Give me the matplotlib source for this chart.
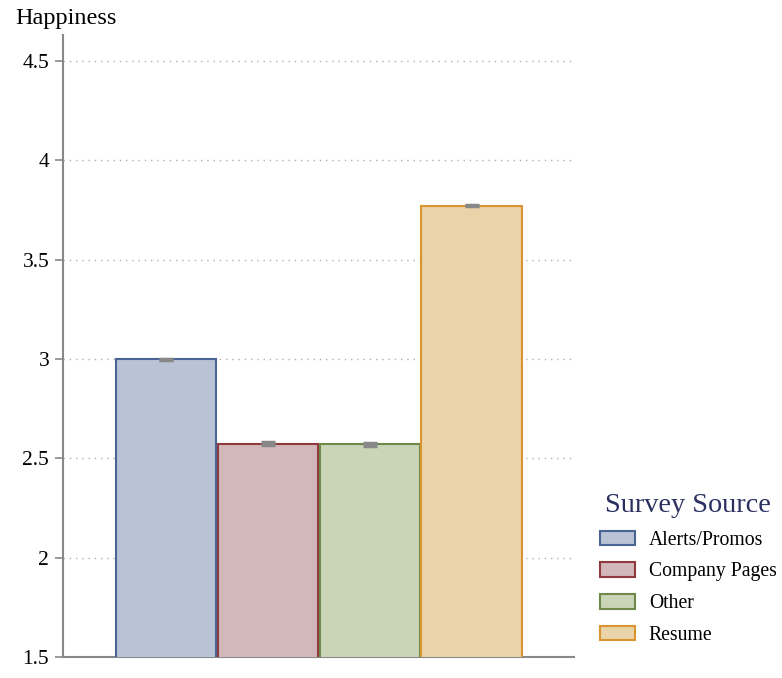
import matplotlib.pyplot as plt
from matplotlib.patches import Patch

# Data
sources = ['Alerts/Promos', 'Company Pages', 'Other', 'Resume']
happiness = [2.998, 2.573, 2.570, 3.772]
errors = [0.003, 0.007, 0.007, 0.003]
fills = ['#b8c3d5', '#d3b8bb', '#cad5b8', '#ead3a8']
edges = ['#4a6595', '#8f3a3f', '#6f8a48', '#d9952f']
yticks = [1.5, 2, 2.5, 3, 3.5, 4, 4.5]
ytick_labels = ['1.5', '2', '2.5', '3', '3.5', '4', '4.5']

plt.rcParams['font.family'] = ['Liberation Serif', 'DejaVu Serif']

fig = plt.figure(figsize=(7.82, 6.78), dpi=100)
ax = fig.add_axes([0.0806, 0.031, 0.654, 0.917])

x = list(range(len(sources)))
ax.bar(x, happiness, width=0.985, color=fills, edgecolor=edges, linewidth=1.5,
       yerr=errors, error_kw=dict(ecolor='#888888', elinewidth=1.5, capsize=5, capthick=2.5),
       zorder=3)

ax.set_xlim(-1.01, 4.01)
ax.set_ylim(1.5, 4.63)
ax.set_yticks(yticks)
ax.set_yticklabels(ytick_labels, fontsize=15.5)
ax.set_xticks([])

for s in ['top', 'right']:
    ax.spines[s].set_visible(False)
for s in ['left', 'bottom']:
    ax.spines[s].set_color('#888888')
    ax.spines[s].set_linewidth(1.5)
ax.tick_params(axis='y', length=6, width=1.2, color='#888888', pad=4)

ax.grid(axis='y', linestyle=(0, (1, 3.5)), color='#b0b0b0', linewidth=1, zorder=0)

fig.text(0.019, 0.972, 'Happiness', fontsize=17.5, ha='left', va='center')

handles = [Patch(facecolor=f, edgecolor=e, linewidth=1.5) for f, e in zip(fills, edges)]
leg = fig.legend(handles, sources, loc='upper left', bbox_to_anchor=(0.744, 0.299),
                 frameon=False, fontsize=14.2, title='Survey Source',
                 title_fontsize=20.3, handlelength=1.8, handleheight=0.75,
                 labelspacing=0.64, handletextpad=0.7)
leg.get_title().set_color('#2b3060')

fig.savefig('out.png', dpi=100)
